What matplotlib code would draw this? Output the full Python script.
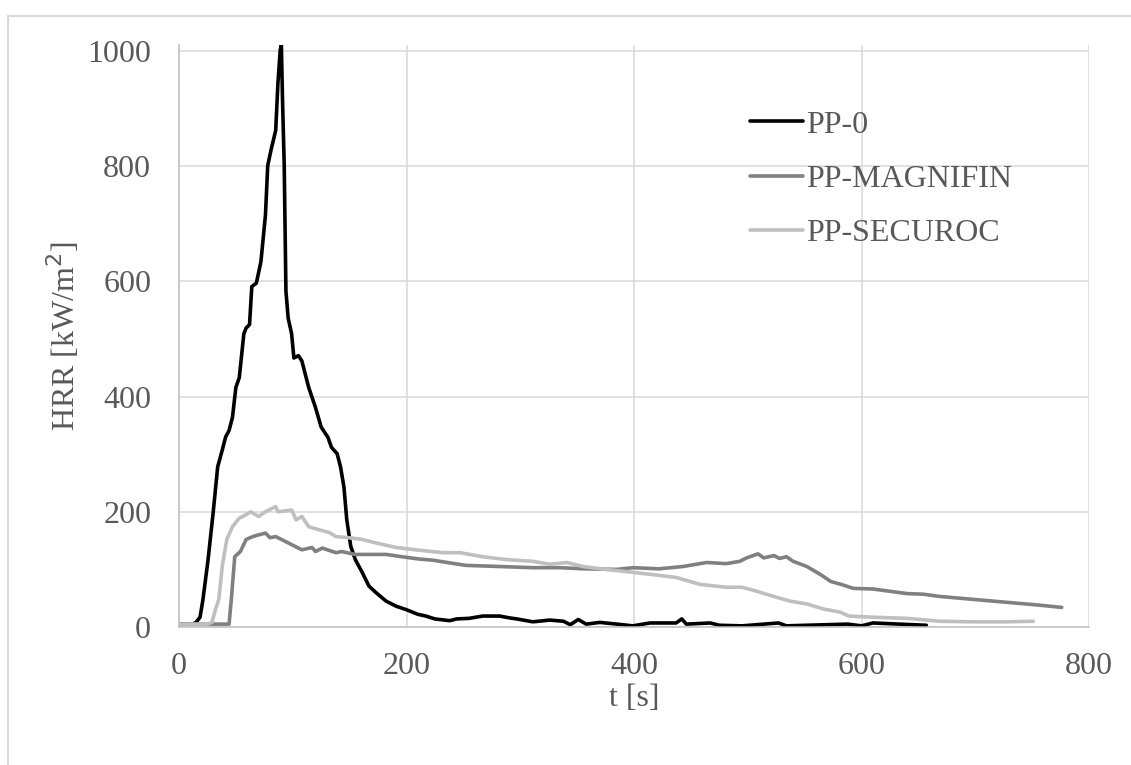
import matplotlib
matplotlib.use("Agg")
import matplotlib.pyplot as plt
from matplotlib.patches import Rectangle

# PP-0
t_pp0 = [0, 12, 15, 18.5, 21, 25.5, 30, 34, 38, 41, 44, 47, 50, 53, 57, 59, 62, 64, 68, 72,
         76, 78, 81, 85, 87, 89, 90, 91, 92.5, 94, 96, 99, 101, 105, 108, 114, 120, 125, 131, 134,
         139, 142, 145, 147.5, 151, 155, 161, 167, 173, 182, 191, 200, 210, 217, 225, 238, 244, 255, 267, 282,
         290, 297, 311, 326, 338, 344, 351, 358, 370, 385, 399, 414, 437, 442, 446, 467, 475, 495, 527, 534,
         551, 588, 600, 610, 657]
hrr_pp0 = [5, 5, 8, 17, 47, 116, 198, 278, 307, 330, 341, 364, 416, 433, 509, 519, 525, 591, 597, 634,
           715, 801, 829, 862, 945, 1002, 1010, 916, 801, 583, 536, 509, 467, 471, 462, 416, 381, 347, 329, 312,
           301, 278, 243, 186, 140, 117, 95, 71, 60, 45, 36, 30, 22, 19, 14, 11, 14, 15, 19, 19,
           16, 14, 9, 12, 10, 4, 13, 5, 8, 5, 2, 7, 7, 14, 5, 7, 3, 2, 7, 2,
           3, 5, 2, 7, 3]

# PP-MAGNIFIN
t_mag = [0, 44, 46, 49, 54, 59, 65, 70, 76, 80, 85, 90, 99, 108, 117, 120, 126, 138, 143, 155,
         167, 182, 196, 211, 223, 252, 282, 311, 335, 356, 385, 399, 422, 443, 464, 481, 493, 499, 509, 514,
         523, 528, 534, 540, 552, 564, 573, 582, 593, 610, 625, 640, 654, 669, 698, 727, 756, 776]
hrr_mag = [5, 5, 48, 122, 131, 152, 157, 160, 163, 155, 157, 152, 143, 134, 138, 131, 137, 129, 131, 126,
           126, 126, 122, 118, 116, 107, 105, 103, 103, 101, 100, 103, 101, 105, 112, 110, 114, 120, 127, 120,
           124, 119, 122, 114, 105, 91, 79, 74, 67, 66, 62, 58, 57, 53, 48, 43, 38, 34]

# PP-SECUROC
t_sec = [0, 25, 29, 32, 35, 38, 42, 47, 53, 59, 63, 70, 76, 85, 87, 99, 103, 108, 114, 123,
         132, 138, 149, 161, 173, 191, 208, 232, 247, 267, 288, 311, 326, 341, 355, 375, 399, 416, 437, 458,
         481, 495, 508, 523, 537, 552, 567, 581, 589, 610, 640, 669, 698, 727, 751]
hrr_sec = [5, 5, 8, 30, 48, 105, 152, 174, 189, 195, 200, 192, 200, 209, 200, 203, 186, 192, 174, 169,
           164, 157, 155, 152, 146, 138, 134, 129, 129, 122, 117, 114, 109, 112, 105, 100, 95, 91, 86, 74,
           69, 69, 62, 53, 45, 40, 31, 26, 19, 17, 15, 10, 9, 9, 10]

labels = ["PP-0", "PP-MAGNIFIN", "PP-SECUROC"]
colors = ["#000000", "#808080", "#bfbfbf"]

plt.rcParams['font.family'] = ['Liberation Serif', 'DejaVu Serif']
fs = 23
plt.rcParams['font.size'] = fs
txt = "#595959"

W, H = 1131, 765
fig = plt.figure(figsize=(W / 100, H / 100), dpi=100)
# light frame of the chart area, open at right and bottom
fig.add_artist(Rectangle((8 / W, -0.2), 1.2, 1.2 - 16 / H, transform=fig.transFigure,
                         fill=False, edgecolor="#d9d9d9", lw=1.5))

ax = fig.add_axes([179 / W, (H - 627) / H, (1089 - 179) / W, (627 - 45) / H])

for t, y, lab, col in zip([t_pp0, t_mag, t_sec], [hrr_pp0, hrr_mag, hrr_sec], labels, colors):
    ax.plot(t, y, color=col, lw=2.6, label=lab, solid_joinstyle="round", solid_capstyle="round")

ax.set_xlim(0, 800)
ax.set_ylim(0, 1010.4)
ax.set_xticks([0, 200, 400, 600, 800])
ax.set_yticks([0, 200, 400, 600, 800, 1000])
ax.grid(True, color="#d9d9d9", lw=1.1)
ax.set_axisbelow(True)
for s in ["top", "right"]:
    ax.spines[s].set_visible(False)
for s in ["left", "bottom"]:
    ax.spines[s].set_color("#bfbfbf")
    ax.spines[s].set_linewidth(1.1)
ax.tick_params(length=0, colors=txt, labelsize=fs)
ax.tick_params(axis="y", pad=20)
ax.tick_params(axis="x", pad=18)

ax.set_xlabel("t [s]", color=txt, fontsize=fs, labelpad=2)
ax.set_ylabel("HRR [kW/m$^{2}$]", color=txt, fontsize=fs, labelpad=4)

leg = ax.legend(loc="upper left", bbox_to_anchor=(0.627, 0.888), frameon=False,
                handlelength=1.66, handletextpad=0.12, labelspacing=0.78,
                borderpad=0, borderaxespad=0, fontsize=fs)
for tx in leg.get_texts():
    tx.set_color(txt)

fig.savefig("out.png", dpi=100)
